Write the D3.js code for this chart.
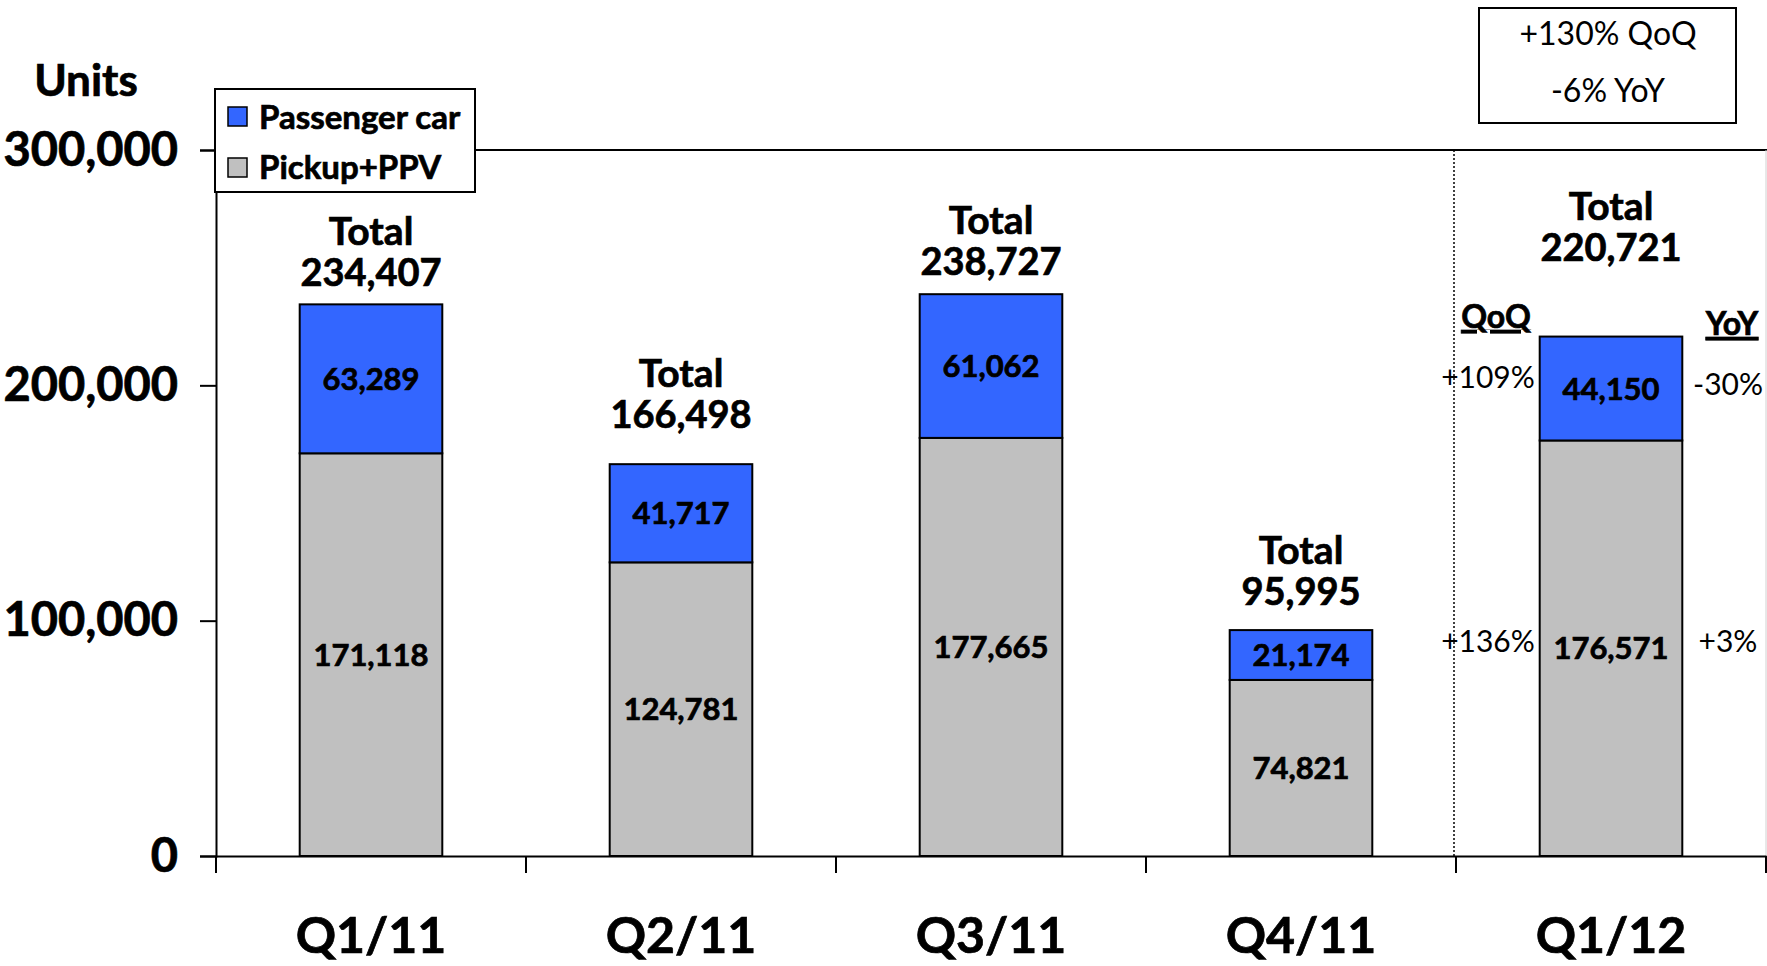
<!DOCTYPE html>
<html>
<head>
<meta charset="utf-8">
<script src="https://cdn.jsdelivr.net/npm/d3@7"></script>
<style>
  html, body { margin: 0; padding: 0; background: #fff; }
  svg { display: block; }
  text { font-family: Lato, "Open Sans", sans-serif; fill: #000; }
  text.heavy { stroke: #000; stroke-width: 0.7px; }
</style>
</head>
<body>
<div id="chart"></div>
<script>
const categories = ["Q1/11", "Q2/11", "Q3/11", "Q4/11", "Q1/12"];
const passengerCar = [63289, 41717, 61062, 21174, 44150];
const pickupPPV = [171118, 124781, 177665, 74821, 176571];
const totals = [234407, 166498, 238727, 95995, 220721];
const yTicks = [0, 100000, 200000, 300000];
const seriesNames = ["Passenger car", "Pickup+PPV"];
const seriesColors = ["#3366ff", "#c0c0c0"];
const qoqLabels = ["+109%", "+136%"];
const yoyLabels = ["-30%", "+3%"];
const summaryLines = ["+130% QoQ", "-6% YoY"];

// gap between bar top and the "Total" number baseline (layout only)
const totalGap = [18, 36, 19, 25, 76];

const width = 1767, height = 966;
const plotLeft = 216, plotRight = 1766, plotTop = 150, plotBottom = 856;
const fontFamily = "Lato, 'Open Sans', sans-serif";

const svg = d3.select("#chart").append("svg")
  .attr("width", width)
  .attr("height", height);

const x = d3.scaleBand().domain(categories).range([plotLeft, plotRight]);
const y = d3.scaleLinear().domain([0, 300000]).range([plotBottom, plotTop]);
const fmt = d3.format(",");
const barW = x.bandwidth() * 0.46;

// plot frame (top line + faint right edge)
svg.append("line")
  .attr("x1", plotLeft).attr("x2", plotRight + 1)
  .attr("y1", y(300000)).attr("y2", y(300000))
  .attr("stroke", "#000").attr("stroke-width", 2);
svg.append("line")
  .attr("x1", plotRight).attr("x2", plotRight)
  .attr("y1", y(300000)).attr("y2", plotBottom)
  .attr("stroke", "#d0d0d0").attr("stroke-width", 1);

// dotted separator before last quarter
const sepX = x(categories[categories.length - 1]) - 2;
svg.append("line")
  .attr("x1", sepX).attr("x2", sepX)
  .attr("y1", y(300000)).attr("y2", plotBottom)
  .attr("stroke", "#000").attr("stroke-width", 1.5)
  .attr("stroke-dasharray", "2,2");

// stacked bars
const stackData = categories.map((c, i) => ({
  cat: c, pickup: pickupPPV[i], passenger: passengerCar[i]
}));
const stack = d3.stack().keys(["pickup", "passenger"]);
const layers = stack(stackData);
const layerColor = { pickup: seriesColors[1], passenger: seriesColors[0] };

layers.forEach((layer) => {
  svg.append("g").selectAll("rect")
    .data(layer)
    .join("rect")
    .attr("x", (d) => x(d.data.cat) + (x.bandwidth() - barW) / 2)
    .attr("width", barW)
    .attr("y", (d) => y(d[1]))
    .attr("height", (d) => y(d[0]) - y(d[1]))
    .attr("fill", layerColor[layer.key])
    .attr("stroke", "#000")
    .attr("stroke-width", 2);

  svg.append("g").selectAll("text")
    .data(layer)
    .join("text")
    .attr("class", "heavy")
    .attr("x", (d) => x(d.data.cat) + x.bandwidth() / 2)
    .attr("y", (d) => (y(d[0]) + y(d[1])) / 2)
    .attr("dy", "0.36em")
    .attr("text-anchor", "middle")
    .attr("font-weight", "bold")
    .attr("font-size", 31)
    .text((d) => fmt(d.data[layer.key]));
});

// totals above bars
categories.forEach((c, i) => {
  const cx = x(c) + x.bandwidth() / 2;
  const base = y(totals[i]) - totalGap[i];
  svg.append("text")
    .attr("class", "heavy")
    .attr("x", cx).attr("y", base - 41)
    .attr("text-anchor", "middle")
    .attr("font-weight", "bold")
    .attr("font-size", 39)
    .text("Total");
  svg.append("text")
    .attr("class", "heavy")
    .attr("x", cx).attr("y", base)
    .attr("text-anchor", "middle")
    .attr("font-weight", "bold")
    .attr("font-size", 38)
    .text(fmt(totals[i]));
});

// y axis
const yAxis = svg.append("g")
  .attr("transform", `translate(${plotLeft},0)`)
  .call(d3.axisLeft(y).tickValues(yTicks).tickFormat(fmt).tickSize(16).tickPadding(22));
yAxis.select(".domain").attr("stroke", "#000").attr("stroke-width", 2);
yAxis.selectAll(".tick line").attr("stroke", "#000").attr("stroke-width", 2);
yAxis.selectAll(".tick text")
  .attr("class", "heavy")
  .attr("font-family", fontFamily)
  .attr("font-weight", "bold")
  .attr("font-size", 47)
  .attr("fill", "#000");

svg.append("text")
  .attr("class", "heavy")
  .attr("x", 86).attr("y", 96)
  .attr("text-anchor", "middle")
  .attr("font-weight", "bold")
  .attr("font-size", 44)
  .text("Units");

// x axis
const xAxis = svg.append("g")
  .attr("transform", `translate(0,${plotBottom})`)
  .call(d3.axisBottom(x).tickSize(0).tickPadding(0));
xAxis.select(".domain").attr("stroke", "#000").attr("stroke-width", 2);
xAxis.selectAll(".tick text")
  .attr("class", "heavy")
  .attr("font-family", fontFamily)
  .attr("font-weight", "bold")
  .attr("font-size", 50)
  .attr("fill", "#000")
  .attr("y", 97)
  .attr("dy", 0);

const boundaries = categories.map((c) => x(c)).concat([plotRight]);
svg.append("g").selectAll("line")
  .data(boundaries)
  .join("line")
  .attr("x1", (d) => d).attr("x2", (d) => d)
  .attr("y1", plotBottom).attr("y2", plotBottom + 17)
  .attr("stroke", "#000").attr("stroke-width", 2);

// QoQ / YoY annotations
const last = categories.length - 1;
const lastBand = x(categories[last]);
const qx = lastBand + 40, yx = lastBand + x.bandwidth() - 34;
svg.append("text").attr("class", "heavy").attr("x", qx).attr("y", 328)
  .attr("text-anchor", "middle").attr("font-weight", "bold").attr("font-size", 32)
  .attr("text-decoration", "underline").text("QoQ");
svg.append("text").attr("class", "heavy").attr("x", yx).attr("y", 335)
  .attr("text-anchor", "middle").attr("font-weight", "bold").attr("font-size", 32)
  .attr("text-decoration", "underline").text("YoY");

const segMid = [
  (y(totals[last]) + y(pickupPPV[last])) / 2,
  (plotBottom + y(pickupPPV[last])) / 2
];
qoqLabels.forEach((t, i) => {
  svg.append("text").attr("x", qx - 8).attr("y", segMid[i] + (i === 0 ? -1 : 4))
    .attr("text-anchor", "middle").attr("font-size", 30).text(t);
});
yoyLabels.forEach((t, i) => {
  svg.append("text").attr("x", yx - 4).attr("y", segMid[i] + (i === 0 ? 6 : 4))
    .attr("text-anchor", "middle").attr("font-size", 30).text(t);
});

// summary box
svg.append("rect")
  .attr("x", 1479).attr("y", 8).attr("width", 257).attr("height", 115)
  .attr("fill", "#fff").attr("stroke", "#000").attr("stroke-width", 2);
summaryLines.forEach((t, i) => {
  svg.append("text").attr("x", 1608).attr("y", 45 + i * 57)
    .attr("text-anchor", "middle").attr("font-size", 32).text(t);
});

// legend
const legend = svg.append("g");
legend.append("rect")
  .attr("x", 215).attr("y", 89).attr("width", 260).attr("height", 103)
  .attr("fill", "#fff").attr("stroke", "#000").attr("stroke-width", 2);
seriesNames.forEach((name, i) => {
  legend.append("rect")
    .attr("x", 228).attr("y", 107 + i * 51).attr("width", 19).attr("height", 19)
    .attr("fill", seriesColors[i]).attr("stroke", "#000").attr("stroke-width", 1.5);
  legend.append("text")
    .attr("class", "heavy")
    .attr("x", 259).attr("y", 129 + i * 50)
    .attr("font-weight", "bold").attr("font-size", 33)
    .text(name);
});
</script>
</body>
</html>
